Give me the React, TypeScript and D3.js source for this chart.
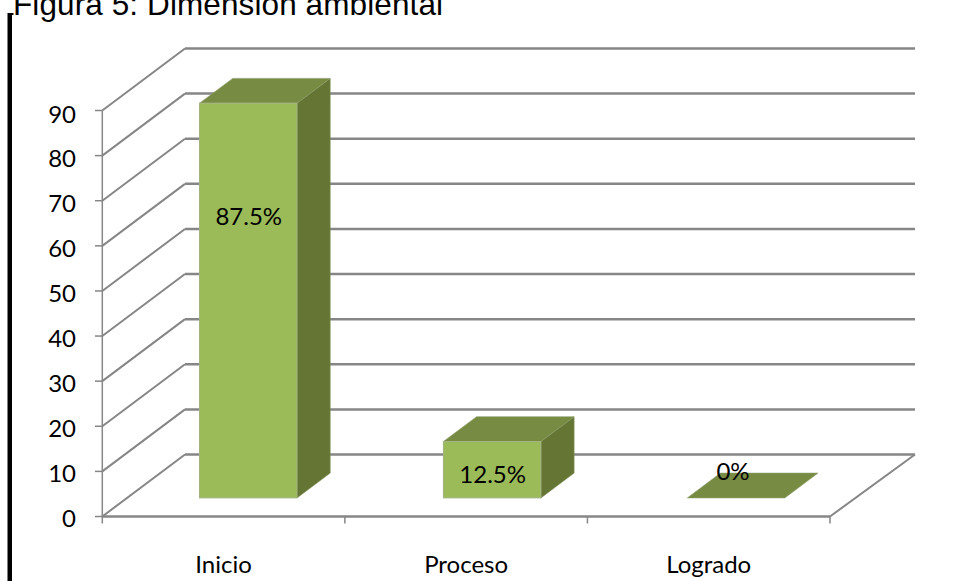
import React from "react";
import * as d3 from "d3";

const categories = ["Inicio", "Proceso", "Logrado"];
const values = [87.5, 12.5, 0];
const labels = ["87.5%", "12.5%", "0%"];
const yTicks = [0, 10, 20, 30, 40, 50, 60, 70, 80, 90];
const titleText = "Figura 5: Dimensión ambiental";

const W = 956, H = 581;
const DX = 83, DY = -62; // floor depth projection
const y = d3.scaleLinear().domain([0, 90]).range([516.5, 110.5]);
const x = d3.scaleBand<string>().domain(categories).range([102.3, 830]).paddingInner(0).paddingOuter(0);
const barX = d3.scalePoint<string>().domain(categories).range([199.5, 687.3]);
const grid = "#868686";
const font = "Lato, Carlito, Calibri, sans-serif";

const poly = (pts: [number, number][]) => d3.line()(pts) + "Z";

export default function App() {
  const bw = 97.5;
  return (
    <svg width={W} height={H} viewBox={`0 0 ${W} ${H}`} style={{ position: "absolute", left: 0, top: 0, background: "#fff" }}>
      <rect x={7.5} y={15} width={4.5} height={H - 15} fill="#000" />
      <rect x={7.5} y={13} width={6} height={2} fill="#000" />
      <text x={13} y={15} fontFamily="'Liberation Sans', Arial, sans-serif" fontSize={31.5} textLength={430} fill="#000">{titleText}</text>

      {yTicks.map((t) => (
        <g key={t}>
          <path d={`M102.3,${y(t)}L${102 + DX},${y(t) + DY}`} fill="none" stroke={grid} strokeWidth={2} />
          <line x1={102 + DX} x2={915} y1={y(t) + DY} y2={y(t) + DY} stroke={grid} strokeWidth={2.5} />
          <line x1={95} x2={102} y1={y(t)} y2={y(t)} stroke={grid} strokeWidth={1.5} />
          <text x={76} y={y(t) + 10 + t / 45} textAnchor="end" fontFamily={font} fontSize={24} fill="#000">{t}</text>
        </g>
      ))}
      <line x1={102.3} x2={102.3} y1={y(90)} y2={y(0)} stroke={grid} strokeWidth={1.5} />
      <path d={`M102,${y(0)}L830,${y(0)}`} fill="none" stroke={grid} strokeWidth={2.5} />
      <path d={`M830,${y(0)}L915,${y(0) + DY}`} fill="none" stroke={grid} strokeWidth={2} />
      {[...categories.map((c) => x(c)!), 830].map((px, i) => (
        <line key={i} x1={px} x2={px} y1={y(0)} y2={y(0) + 7} stroke={grid} strokeWidth={1.5} />
      ))}

      {categories.map((c, i) => {
        const x0 = barX(c)!;
        const x1 = x0 + bw;
        const base = y(0) + DY * 0.3;
        const top = base - (y(0) - y(values[i]));
        const ox = DX * 0.4, oy = DY * 0.4;
        const has = values[i] > 0;
        return (
          <g key={c}>
            {has && (
              <path d={poly([[x1, base], [x1 + ox, base + oy], [x1 + ox, top + oy], [x1, top]])} fill="#647534" stroke="#7d8f55" strokeWidth={0.6} />
            )}
            <path d={poly([[x0, top], [x1, top], [x1 + ox, top + oy], [x0 + ox, top + oy]])} fill="#778C42" stroke="#8a9a68" strokeWidth={0.6} />
            {has && (
              <rect x={x0} y={top} width={bw} height={base - top} fill="#9BBB59" stroke="#a3b37f" strokeWidth={1} />
            )}
            <text
              x={has ? x0 + bw / 2 + 0.5 : 733}
              y={has ? (i === 0 ? 225 : 483) : 480}
              textAnchor="middle"
              fontFamily={font}
              fontSize={24}
              fill="#000"
            >
              {labels[i]}
            </text>
            <text x={x(c)! + x.bandwidth() / 2} y={573} textAnchor="middle" fontFamily={font} fontSize={24} fill="#000">{c}</text>
          </g>
        );
      })}
    </svg>
  );
}
